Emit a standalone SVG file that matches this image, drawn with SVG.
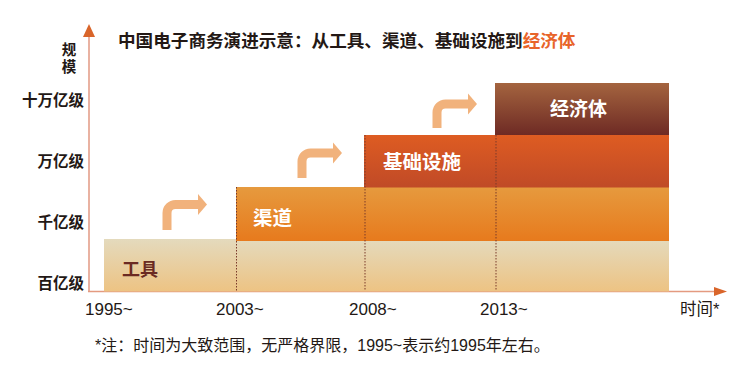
<svg xmlns="http://www.w3.org/2000/svg" width="749" height="369" viewBox="0 0 749 369">
<style>
.cjk{font-family:"Noto Sans CJK SC","Liberation Sans",sans-serif;}
.lat{font-family:"Liberation Sans","Noto Sans CJK SC",sans-serif;}
.ylab{font-size:15.5px;font-weight:700;fill:#231815;text-anchor:end;}
.tick{font-size:17px;fill:#231815;}
.bl{font-weight:700;fill:#ffffff;}
.arr{fill:none;stroke:#f1b27c;stroke-width:9;}
.arrh{fill:#f1b27c;}
.dot{stroke:#7a3a2a;stroke-width:1;stroke-dasharray:1.5 1.5;}
</style>
<defs>
<linearGradient id="g1" x1="0" y1="0" x2="0" y2="1"><stop offset="0" stop-color="#e4dabd"/><stop offset="1" stop-color="#edc383"/></linearGradient>
<linearGradient id="g2" x1="0" y1="0" x2="0" y2="1"><stop offset="0" stop-color="#e69a3e"/><stop offset="1" stop-color="#e77a1d"/></linearGradient>
<linearGradient id="g3" x1="0" y1="0" x2="0" y2="1"><stop offset="0" stop-color="#de5c22"/><stop offset="1" stop-color="#c04a27"/></linearGradient>
<linearGradient id="g4" x1="0" y1="0" x2="0" y2="1"><stop offset="0" stop-color="#a4643f"/><stop offset="1" stop-color="#6e2a24"/></linearGradient>
</defs>
<text class="cjk" x="118" y="47" font-size="17.6" font-weight="700" fill="#231815">中国电子商务演进示意：从工具、渠道、基础设施到<tspan fill="#e8642a">经济体</tspan></text>
<g id="axes">
<line x1="89" y1="36" x2="89" y2="292" stroke="#e9b2a2" stroke-width="2"/>
<polygon points="83,37 89,24 95,37" fill="#d9652a"/>
<line x1="88" y1="291.5" x2="715" y2="291.5" stroke="#e49a80" stroke-width="1.5"/>
<polygon points="714,287 727,291.5 714,296" fill="#d9652a"/>
</g>
<g id="ylabels">
<text class="cjk" x="69" y="42.5" writing-mode="vertical-rl" font-size="14.5" font-weight="700" fill="#231815" letter-spacing="2.5">规模</text>
<text class="cjk ylab" x="84" y="106">十万亿级</text>
<text class="cjk ylab" x="84" y="166.5">万亿级</text>
<text class="cjk ylab" x="84" y="227.5">千亿级</text>
<text class="cjk ylab" x="84" y="289">百亿级</text>
</g>
<g id="node-gongju">
<rect x="104" y="239" width="565" height="52.5" fill="url(#g1)"/>
<text class="cjk" x="122" y="276" font-size="18" font-weight="700" fill="#6b2a22">工具</text>
</g>
<g id="node-qudao">
<rect x="236" y="187" width="433" height="54" fill="url(#g2)"/>
<text class="cjk bl" x="253" y="225" font-size="19.5">渠道</text>
</g>
<g id="node-jichusheshi">
<rect x="364" y="135" width="305" height="52.5" fill="url(#g3)"/>
<text class="cjk bl" x="383" y="169" font-size="19.5">基础设施</text>
</g>
<g id="node-jingjiti">
<rect x="495" y="83" width="174" height="52" fill="url(#g4)"/>
<text class="cjk bl" x="550" y="116" font-size="19">经济体</text>
</g>
<g id="connectors">
<line class="dot" x1="236.5" y1="187" x2="236.5" y2="291"/>
<line class="dot" x1="365" y1="135" x2="365" y2="291"/>
<line class="dot" x1="496" y1="135" x2="496" y2="291"/>
<path class="arr" d="M167,230 V213 A8.5,8.5 0 0 1 175.5,204.5 H199"/>
<polygon class="arrh" points="198,194 207,204.5 198,215"/>
<path class="arr" d="M302,178 V161.5 A8.5,8.5 0 0 1 310.5,153 H334"/>
<polygon class="arrh" points="333,142.5 342,153 333,163.5"/>
<path class="arr" d="M437,128 V112.5 A8.5,8.5 0 0 1 445.5,104 H469"/>
<polygon class="arrh" points="468,93.5 477,104 468,114.5"/>
</g>
<g id="xlabels">
<text class="lat tick" x="85" y="315">1995~</text>
<text class="lat tick" x="216" y="315">2003~</text>
<text class="lat tick" x="349" y="315">2008~</text>
<text class="lat tick" x="480" y="315">2013~</text>
<text class="cjk" x="680" y="315" font-size="16.5" fill="#231815">时间<tspan class="lat">*</tspan></text>
</g>
<text class="cjk" x="95" y="351" font-size="16" fill="#231815"><tspan class="lat">*</tspan>注：时间为大致范围，无严格界限，<tspan class="lat">1995~</tspan>表示约<tspan class="lat">1995</tspan>年左右。</text>
</svg>
